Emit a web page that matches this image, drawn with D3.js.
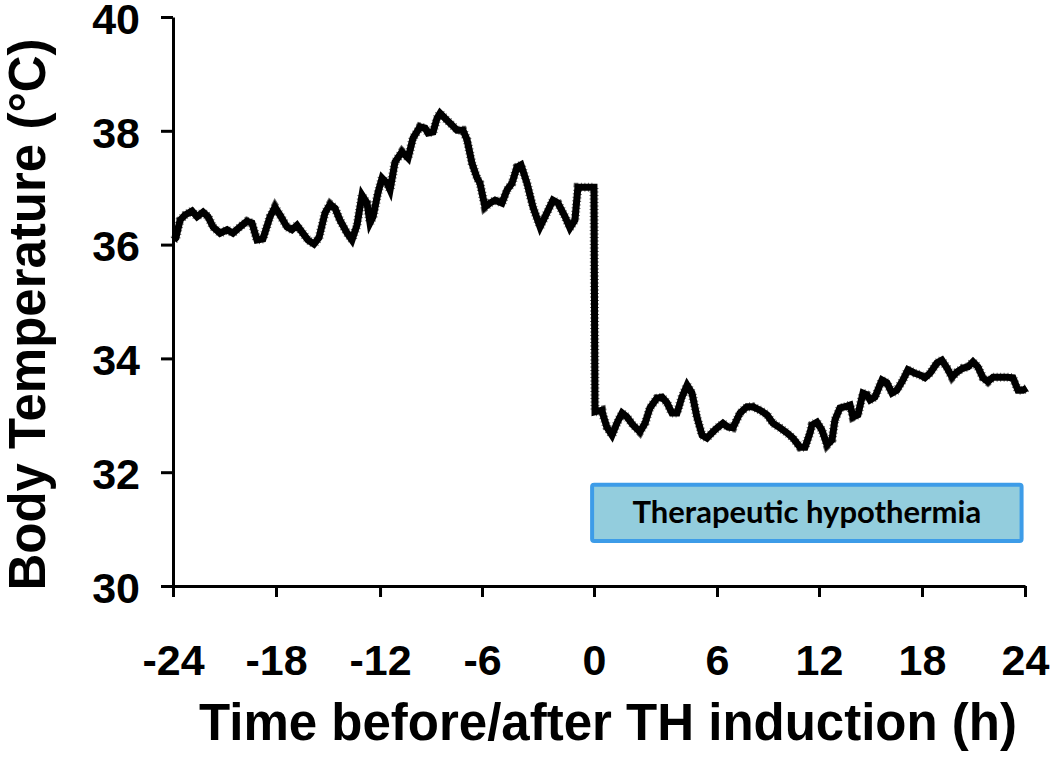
<!DOCTYPE html>
<html>
<head>
<meta charset="utf-8">
<script src="https://cdn.jsdelivr.net/npm/d3@7"></script>
<style>
  body { margin: 0; background: #fff; }
  .tick text { font-family: "Liberation Sans", Arial, sans-serif; font-weight: bold; }
</style>
</head>
<body>
<div id="chart"></div>
<script>
// body temperature trace, hours relative to TH induction
var hours = [
  -23.95, -23.83, -23.59, -23.30, -22.89, -22.60, -22.25, -21.96, -21.67, -21.26, -20.85, -20.51, -20.10, -19.69, -19.40, -19.11, -18.76, -18.35, -18.06,
  -17.77, -17.37, -17.08, -16.79, -16.50, -16.15, -15.81, -15.52, -15.17, -14.88, -14.60, -14.31, -13.90, -13.62, -13.33, -13.04, -12.75, -12.58, -12.40, -12.12,
  -11.88, -11.59, -11.41, -11.12, -10.71, -10.35, -10.06, -9.65, -9.35, -9.18, -8.88, -8.65, -8.47, -8.18, -7.76, -7.47, -7.12, -6.88, -6.59, -6.29, -6.12,
  -5.84, -5.57, -5.30, -4.93, -4.66, -4.39, -4.13, -3.91, -3.59, -3.27, -2.89, -2.52, -2.20, -1.93, -1.55, -1.29, -1.02, -0.86, 0,
  0.05, 0.39, 0.44, 0.63, 0.88, 1.12, 1.37, 1.61, 1.90, 2.24, 2.49, 2.73, 3.07, 3.32, 3.56, 3.80, 4.05, 4.29, 4.54, 4.78, 5.02, 5.27, 5.51, 5.80,
  6.06, 6.35, 6.65, 6.94, 7.35, 7.76, 8.12, 8.53, 8.94, 9.29, 9.71, 10.12, 10.47, 10.88, 11.18, 11.47, 11.59, 11.88,
  12.17, 12.47, 12.76, 12.93, 13.22, 13.51, 13.81, 13.98, 14.27, 14.56, 14.79, 14.97, 15.26, 15.67, 15.96, 16.25, 16.54, 16.89, 17.18, 17.59, 17.88,
  18.17, 18.47, 18.87, 19.16, 19.46, 19.75, 20.04, 20.39, 20.68, 20.97, 21.26, 21.55, 21.84, 22.14, 22.54, 22.95, 23.30, 23.59, 23.88, 24.1
]
var tempC = [
  36.08, 36.12, 36.43, 36.52, 36.59, 36.49, 36.57, 36.49, 36.31, 36.20, 36.26, 36.20, 36.31, 36.41, 36.38, 36.08, 36.10, 36.49, 36.66,
  36.52, 36.31, 36.26, 36.34, 36.22, 36.08, 36.01, 36.12, 36.56, 36.71, 36.64, 36.43, 36.20, 36.08, 36.34, 36.87, 36.73, 36.38, 36.49, 36.91,
  37.17, 37.08, 36.96, 37.45, 37.63, 37.52, 37.87, 38.07, 38.05, 37.96, 37.98, 38.22, 38.31, 38.22, 38.10, 38.01, 38.01, 37.84, 37.43, 37.17, 37.08,
  36.66, 36.73, 36.78, 36.73, 36.96, 37.08, 37.36, 37.40, 37.08, 36.66, 36.31, 36.56, 36.78, 36.73, 36.49, 36.29, 36.43, 37.01, 37.01,
  33.06, 33.09, 33.01, 32.79, 32.65, 32.86, 33.04, 32.97, 32.83, 32.71, 32.86, 33.13, 33.30, 33.32, 33.22, 33.04, 33.04, 33.32, 33.53, 33.39, 32.97, 32.65, 32.60, 32.71,
  32.79, 32.86, 32.79, 32.78, 33.04, 33.15, 33.15, 33.09, 33.01, 32.86, 32.78, 32.69, 32.60, 32.44, 32.44, 32.69, 32.83, 32.88,
  32.74, 32.48, 32.57, 32.92, 33.13, 33.15, 33.18, 32.97, 33.01, 33.39, 33.36, 33.27, 33.32, 33.62, 33.57, 33.39, 33.44, 33.62, 33.80, 33.74, 33.71,
  33.66, 33.74, 33.92, 33.97, 33.83, 33.67, 33.76, 33.83, 33.85, 33.94, 33.85, 33.66, 33.59, 33.67, 33.67, 33.67, 33.66, 33.44, 33.44, 33.48
]
var xTicks = [-24, -18, -12, -6, 0, 6, 12, 18, 24]
var yTicks = [30, 32, 34, 36, 38, 40]
var thLabel = 'Therapeutic hypothermia'
var thHours = [-0.1, 23.8]
var thTemp = [30.79, 31.78]

var width = 1050,
    height = 770,
    margin = {top: 17, right: 25, bottom: 184, left: 173},
    w = width - margin.left - margin.right,
    h = height - margin.top - margin.bottom

// the category axis in the original is not evenly spaced, so map each tick
var xBreaks = [0, 0.1209, 0.2430, 0.3627, 0.4941, 0.6385, 0.7582, 0.8791, 1]

var svg = d3.select('#chart').append('svg')
    .attr('width', width)
    .attr('height', height)

var g = svg.append('g')
    .attr('transform', 'translate(' + margin.left + ',' + margin.top + ')')

var x = d3.scaleLinear()
    .domain(xTicks)
    .range(xBreaks.map(function (f) { return f * w }))

var y = d3.scaleLinear().domain([30, 40]).range([h, 0])

// hypothermia box
g.append('rect')
  .attr('x', x(thHours[0]))
  .attr('y', y(thTemp[1]))
  .attr('width', x(thHours[1]) - x(thHours[0]))
  .attr('height', y(thTemp[0]) - y(thTemp[1]))
  .attr('rx', 2)
  .attr('fill', '#93cddd')
  .attr('stroke', '#3d9ce8')
  .attr('stroke-width', 4)

g.append('text')
  .attr('x', (x(thHours[0]) + x(thHours[1])) / 2)
  .attr('y', (y(thTemp[0]) + y(thTemp[1])) / 2 + 10)
  .attr('text-anchor', 'middle')
  .style('font-family', 'Lato, "Noto Sans", sans-serif')
  .style('font-weight', 'bold')
  .style('font-size', '31px')
  .attr('fill', '#000')
  .text(thLabel)

// axes
var xAxis = d3.axisBottom(x)
    .tickValues(xTicks)
    .tickSize(11)
    .tickSizeOuter(0)
    .tickPadding(47)
    .tickFormat(d3.format('d'))

var yAxis = d3.axisLeft(y)
    .tickValues(yTicks)
    .tickSize(12)
    .tickSizeOuter(0)
    .tickPadding(21)

var gx = g.append('g')
    .attr('transform', 'translate(0,' + h + ')')
    .call(xAxis)
gx.selectAll('.tick text').style('font-size', '43px').text(function (d) { return String(d) })

var gy = g.append('g').call(yAxis)
gy.selectAll('.tick text').style('font-size', '43px').attr('dy', '0.38em')

svg.selectAll('.domain, .tick line')
   .attr('stroke', '#000')
   .attr('stroke-width', 3)

// temperature trace
var pts = hours.map(function (t, i) { return [t, tempC[i]] })
var line = d3.line()
    .x(function (d) { return x(d[0]) })
    .y(function (d) { return y(d[1]) })

g.append('path')
  .datum(pts)
  .attr('d', line)
  .attr('fill', 'none')
  .attr('stroke', '#000')
  .attr('stroke-width', 7)
  .attr('stroke-linejoin', 'miter')

// ragged edge of the original trace
g.append('path')
  .datum(pts)
  .attr('d', line)
  .attr('fill', 'none')
  .attr('stroke', '#000')
  .attr('stroke-width', 9)
  .attr('stroke-dasharray', '1,2.5')
  .attr('opacity', 0.6)

// axis titles
svg.append('text')
  .attr('transform', 'translate(45,' + (margin.top + h / 2 + 13) + ')rotate(-90)')
  .attr('text-anchor', 'middle')
  .style('font-family', '"Liberation Sans", Arial, sans-serif')
  .style('font-weight', 'bold')
  .style('font-size', '51px')
  .text('Body Temperature (°C)')

svg.append('text')
  .attr('x', 608)
  .attr('y', 740)
  .attr('text-anchor', 'middle')
  .style('font-family', '"Liberation Sans", Arial, sans-serif')
  .style('font-weight', 'bold')
  .style('font-size', '51px')
  .text('Time before/after TH induction (h)')
</script>
</body>
</html>
